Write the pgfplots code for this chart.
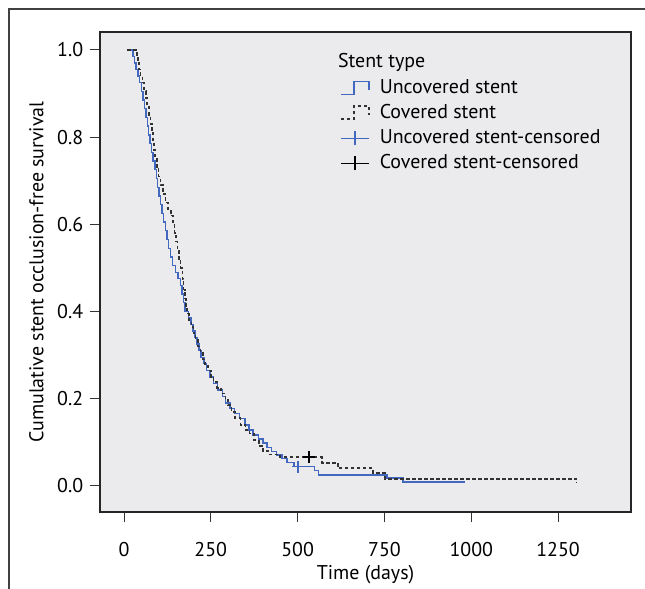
\documentclass[border=0pt]{standalone}
\usepackage{fontspec}
\setmainfont{PT Sans}
\usepackage{pgfplots}
\pgfplotsset{compat=1.18}

\definecolor{bgplot}{RGB}{235,235,237}
\definecolor{kmblue}{RGB}{66,104,192}
\definecolor{kmdark}{RGB}{50,50,50}
\newcommand{\chartfont}{\fontsize{20}{24}\selectfont}

\pgfplotstableread{
t     s
9     1.000
26    0.985
30    0.970
35    0.955
40    0.940
45    0.925
50    0.905
55    0.885
59    0.865
63    0.845
67    0.825
71    0.805
75    0.785
79    0.765
84    0.745
89    0.725
93    0.705
97    0.685
101   0.665
106   0.645
110   0.625
114   0.605
119   0.585
124   0.565
129   0.545
134   0.525
140   0.505
148   0.490
156   0.475
162   0.460
167   0.440
171   0.420
176   0.400
185   0.385
193   0.370
199   0.355
205   0.340
210   0.325
216   0.310
222   0.295
230   0.280
238   0.265
248   0.250
258   0.235
270   0.220
283   0.205
293   0.190
305   0.178
318   0.166
332   0.154
348   0.140
360   0.128
372   0.117
388   0.107
400   0.098
412   0.088
425   0.079
440   0.071
455   0.063
470   0.053
490   0.044
548   0.035
560   0.025
757   0.018
803   0.009
982   0.009
}\uncovered

\pgfplotstableread{
t     s
9     1.000
37    0.985
40    0.970
44    0.955
48    0.940
53    0.925
58    0.905
63    0.890
67    0.870
72    0.850
76    0.830
80    0.810
84    0.790
87    0.770
90    0.750
95    0.730
100   0.710
105   0.690
112   0.670
120   0.650
127   0.635
135   0.620
142   0.600
146   0.580
150   0.560
154   0.540
158   0.520
163   0.500
168   0.475
172   0.450
175   0.430
178   0.410
182   0.395
187   0.380
194   0.365
200   0.350
206   0.335
213   0.320
220   0.305
227   0.290
234   0.278
242   0.265
250   0.250
258   0.238
268   0.225
280   0.212
292   0.200
300   0.185
310   0.170
320   0.155
335   0.140
350   0.128
362   0.120
375   0.105
388   0.092
400   0.080
415   0.072
450   0.066
570   0.053
616   0.041
717   0.030
752   0.016
1303  0.007
1303  0.007
}\covered

\begin{document}
\chartfont
\begin{tikzpicture}
\path[use as bounding box] (-100bp,-77bp) rectangle (545bp,512bp);
\draw[line width=1.2bp, black!75] (-91bp,-77bp) -- (-91bp,503bp) -- (545bp,503bp);
\begin{axis}[
    at={(0bp,0bp)}, anchor=south west,
    scale only axis,
    width=531bp, height=480bp,
    xmin=-69, xmax=1460,
    ymin=-0.06, ymax=1.041,
    xtick={0,250,...,1250},
    ytick={0,0.2,...,1.0},
    xticklabel style={/pgf/number format/1000 sep={}},
    yticklabel style={/pgf/number format/.cd, fixed, fixed zerofill, precision=1},
    /pgf/number format/assume math mode=true,
    tick align=outside,
    major tick length=10bp,
    tick style={black!80, line width=0.8bp},
    xtick pos=bottom, ytick pos=left,
    axis line style={black!85, line width=1.3bp},
    axis background/.style={fill=bgplot},
    tick label style={font=\chartfont},
    xticklabel style={yshift=-13bp},
    xlabel={Time (days)},
    ylabel={Cumulative stent occlusion-free survival},
    label style={font=\chartfont},
    xlabel style={yshift=4bp},
    ylabel style={yshift=0bp},
    legend style={draw=none, fill=none, at={(0.452,0.905)}, anchor=north west,
        font=\chartfont, row sep=4bp,
        inner sep=0pt, cells={anchor=west}},
    legend cell align=left,
]
\addplot[const plot, kmblue, line width=1.4bp,
    legend image code/.code={\draw[kmblue, line width=1.5bp] (0bp,-6bp) -- (13bp,-6bp) -- (13bp,7bp) -- (28bp,7bp) -- (28bp,-2bp); \path (36bp,0bp);}]
    table[x=t, y=s] {\uncovered};
\addlegendentry{Uncovered stent}
\addplot[const plot, kmdark, line width=1.6bp, dash pattern=on 3.5bp off 2.5bp,
    legend image code/.code={\draw[kmdark, line width=1.6bp, dash pattern=on 3bp off 3bp] (0bp,-6bp) -- (13bp,-6bp) -- (13bp,7bp) -- (28bp,7bp) -- (28bp,-2bp); \path (36bp,0bp);}]
    table[x=t, y=s] {\covered};
\addlegendentry{Covered stent}
\addplot[only marks, mark=+, mark size=6bp, mark options={kmblue, line width=1.3bp},
    legend image code/.code={\draw[kmblue, line width=1.6bp, solid] (0bp,0bp) -- (28bp,0bp) (14bp,-7bp) -- (14bp,7bp); \path (36bp,0bp);}]
    coordinates {(501,0.044)};
\addlegendentry{Uncovered stent-censored}
\addplot[only marks, mark=+, mark size=6bp, mark options={black, line width=1.3bp},
    legend image code/.code={\draw[black, line width=1.6bp, solid] (0bp,0bp) -- (28bp,0bp) (14bp,-7bp) -- (14bp,7bp); \path (36bp,0bp);}]
    coordinates {(533,0.066)};
\addlegendentry{Covered stent-censored}
\node[anchor=west, inner sep=0pt, font=\chartfont] at (rel axis cs:0.448,0.9375) {Stent type};
\end{axis}
\end{tikzpicture}
\end{document}
